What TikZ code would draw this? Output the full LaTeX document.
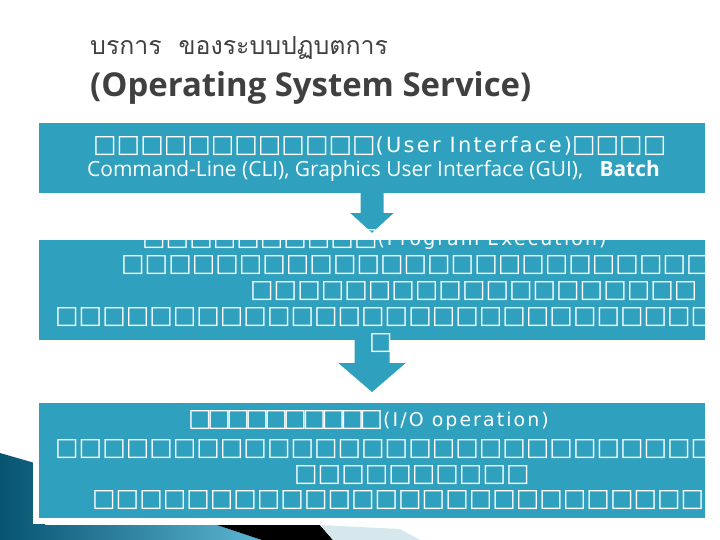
\documentclass[tikz,border=0pt]{standalone}
\usepackage{fontspec}
\usetikzlibrary{calc}

\newfontfamily\thaifont[Script=Thai]{Loma}
\newfontfamily\headfont{Open Sans}
\newfontfamily\tofufont{DejaVu Sans}
\newfontfamily\tightfont[LetterSpace=-18]{DejaVu Sans}
\newfontfamily\gapfont[LetterSpace=11]{DejaVu Sans}

\definecolor{panelblue}{RGB}{47,161,191}
\definecolor{headgray}{RGB}{64,64,64}
\definecolor{ribbondark}{RGB}{6,84,112}
\definecolor{ribbonlight}{RGB}{92,182,212}
\definecolor{ribbonpale}{RGB}{214,232,238}

\tikzstyle{panel} = [fill=panelblue, draw=none, inner sep=0pt, minimum width=666bp]
\tikzstyle{flow} = [fill=panelblue, draw=none]
\tikzstyle{row} = [anchor=base west, inner sep=0pt, text=white, font=\tofufont\fontsize{25}{25}\selectfont]
\newcommand\gaptext[2][19]{{\gapfont\fontsize{#1}{#1}\selectfont #2}}

\begin{document}
\begin{tikzpicture}[x=1bp, y=-1bp]
    \useasboundingbox (0,0) rectangle (720,540);

    % title
    \node[anchor=base west, inner sep=0pt, text=headgray, font=\thaifont\fontsize{25}{25}\selectfont] (thai) at (90,55) {บรการ\ \ ของระบบปฏบตการ};
    \node[anchor=base west, inner sep=0pt, text=headgray, font=\headfont\bfseries\fontsize{33}{33}\selectfont] (title) at (90,97) {(Operating System Service)};

    % ribbon at the bottom left
    \shade[left color=ribbondark, right color=ribbonlight] (0,453) -- (45,466) -- (45,525) -- (217,525) -- (262,540) -- (0,540) -- cycle;
    \fill[black] (217,525) -- (320,525) -- (333,540) -- (262,540) -- cycle;
    \fill[ribbonpale] (320,525) -- (400,529) -- (420,540) -- (333,540) -- cycle;

    % panels
    \node[panel, minimum height=70bp] (box1) at (372,158) {};
    \node[panel, minimum height=100bp] (box2) at (372,290) {};
    \node[panel, draw=white, line width=6bp, minimum width=672bp, minimum height=121bp] (box3) at (372,460.5) {};

    % arrows
    \fill[flow] ($(box1.south)+(-11.5,0)$) -- ++(0,20) -- ++(-10,0) -- ($(box2.north)+(0,-7)$)
        -- ($(box1.south)+(21.5,20)$) -- ++(-10,0) -- ($(box1.south)+(11.5,0)$) -- cycle;
    \fill[flow] ($(box2.south)+(-17.5,0)$) -- ++(0,23) -- ++(-16,0) -- ($(box3.north)+(0,-5)$)
        -- ($(box2.south)+(33.5,23)$) -- ++(-16,0) -- ($(box2.south)+(17.5,0)$) -- cycle;

    % first panel
    \node[row] (ui) at (93,152.5) {□□□□□□□□□□□□\gaptext[21]{(User Interface)}□□□□};
    \node[row, font=\headfont\fontsize{21}{21}\selectfont] (kinds) at (87,177) {Command-Line (CLI), Graphics User Interface (GUI),\ \ \ {\bfseries Batch}};

    % second panel
    \node[row] (exec) at (142,245.5) {□□□□□□□□□□\gaptext{(Program Execution)}};
    \node[row] (exec2) at (121,271.5) {□□□□□□□□□□□□□□□□□□□□□□□□□};
    \node[row] (exec3) at (250,297.5) {□□□□□□□□□□□□□□□□□□□};
    \node[row] (exec4) at (55,323.5) {□□□□□□□□□□□□□□□□□□□□□□□□□□□□};
    \node[row] (exec5) at (369,349.5) {□};

    % third panel
    \node[row, font=\tightfont\fontsize{25}{25}\selectfont] (io) at (188,426.5) {□□□□□□□□□□\gaptext{(I/O operation)}};
    \node[row] (io2) at (55,455.5) {□□□□□□□□□□□□□□□□□□□□□□□□□□□□};
    \node[row] (io3) at (294,481.5) {□□□□□□□□□□};
    \node[row] (io4) at (92,506.5) {□□□□□□□□□□□□□□□□□□□□□□□□□□};
\end{tikzpicture}
\end{document}
